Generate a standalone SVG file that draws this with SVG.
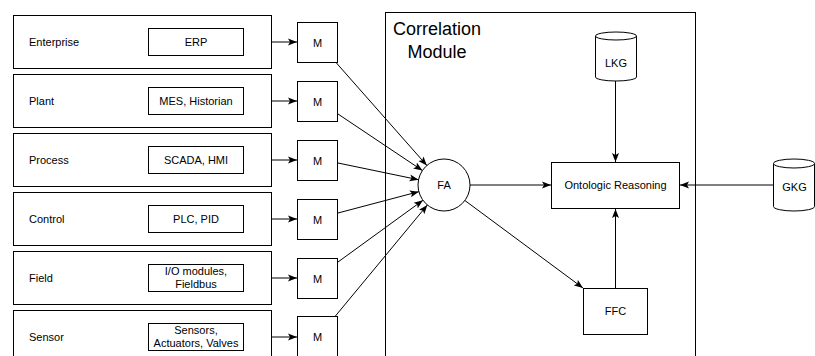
<svg xmlns="http://www.w3.org/2000/svg" width="815" height="356" viewBox="0 0 815 356">
<style>
.b{fill:#fff;stroke:#000;stroke-width:1}
.t{font-family:"Liberation Sans",Arial,sans-serif;font-size:11px;fill:#000}
.c{text-anchor:middle}
.big{font-family:"Liberation Sans",Arial,sans-serif;font-size:18px;fill:#000;text-anchor:middle}
.e{fill:none;stroke:#000;stroke-width:1;marker-end:url(#a)}
</style>
<defs>
<marker id="a" markerUnits="userSpaceOnUse" markerWidth="10" markerHeight="8" refX="9" refY="4" orient="auto">
<path d="M0,0.5 L9,4 L0,7.5 L2,4 Z" fill="#000"/>
</marker>
</defs>
<rect width="815" height="356" fill="#fff"/>
<g id="correlation-module">
<rect class="b" x="385.5" y="12.5" width="310" height="400"/>
<text class="big" x="437" y="35">Correlation</text>
<text class="big" x="437" y="58">Module</text>
</g>
<g id="layer-enterprise">
<rect class="b" x="13.5" y="15.5" width="258" height="53"/>
<text class="t" x="29" y="45.5">Enterprise</text>
<rect class="b" x="148.5" y="28.5" width="95" height="27"/>
<text class="t c" x="196" y="45.5">ERP</text>
</g>
<g id="layer-plant">
<rect class="b" x="13.5" y="74.5" width="258" height="53"/>
<text class="t" x="29" y="104.5">Plant</text>
<rect class="b" x="148.5" y="87.5" width="95" height="27"/>
<text class="t c" x="196" y="104.5">MES, Historian</text>
</g>
<g id="layer-process">
<rect class="b" x="13.5" y="133.5" width="258" height="53"/>
<text class="t" x="29" y="163.5">Process</text>
<rect class="b" x="148.5" y="146.5" width="95" height="27"/>
<text class="t c" x="196" y="163.5">SCADA, HMI</text>
</g>
<g id="layer-control">
<rect class="b" x="13.5" y="192.5" width="258" height="53"/>
<text class="t" x="29" y="222.5">Control</text>
<rect class="b" x="148.5" y="205.5" width="95" height="27"/>
<text class="t c" x="196" y="222.5">PLC, PID</text>
</g>
<g id="layer-field">
<rect class="b" x="13.5" y="251.5" width="258" height="53"/>
<text class="t" x="29" y="281.5">Field</text>
<rect class="b" x="148.5" y="264.5" width="95" height="27"/>
<text class="t c" x="196" y="275">I/O modules,</text>
<text class="t c" x="196" y="288">Fieldbus</text>
</g>
<g id="layer-sensor">
<rect class="b" x="13.5" y="310.5" width="258" height="53"/>
<text class="t" x="29" y="340.5">Sensor</text>
<rect class="b" x="148.5" y="323.5" width="95" height="27"/>
<text class="t c" x="196" y="334">Sensors,</text>
<text class="t c" x="196" y="347">Actuators, Valves</text>
</g>
<g id="m1"><rect class="b" x="297.5" y="22.5" width="40" height="40"/><text class="t c" x="317.5" y="46.5">M</text></g>
<g id="m2"><rect class="b" x="297.5" y="81.5" width="40" height="40"/><text class="t c" x="317.5" y="105.5">M</text></g>
<g id="m3"><rect class="b" x="297.5" y="140.5" width="40" height="40"/><text class="t c" x="317.5" y="164.5">M</text></g>
<g id="m4"><rect class="b" x="297.5" y="199.5" width="40" height="40"/><text class="t c" x="317.5" y="223.5">M</text></g>
<g id="m5"><rect class="b" x="297.5" y="258.5" width="40" height="40"/><text class="t c" x="317.5" y="282.5">M</text></g>
<g id="m6"><rect class="b" x="297.5" y="316.5" width="40" height="40"/><text class="t c" x="317.5" y="340.5">M</text></g>
<g id="fa"><circle class="b" cx="444" cy="185" r="26"/><text class="t c" x="444" y="189">FA</text></g>
<g id="ontologic-reasoning"><rect class="b" x="551.5" y="162.5" width="128" height="46"/><text class="t c" x="615.5" y="189">Ontologic Reasoning</text></g>
<g id="ffc"><rect class="b" x="583.5" y="288.5" width="64" height="46"/><text class="t c" x="615.5" y="315">FFC</text></g>
<g id="lkg">
<path class="b" d="M595.5,36 L595.5,77 A20.5,4 0 0 0 636.5,77 L636.5,36"/>
<ellipse class="b" cx="616" cy="36" rx="20.5" ry="4"/>
<text class="t c" x="616" y="66.5">LKG</text>
</g>
<g id="gkg">
<path class="b" d="M773.5,163.5 L773.5,206.5 A20.5,4.5 0 0 0 814.5,206.5 L814.5,163.5"/>
<ellipse class="b" cx="794" cy="163.5" rx="20.5" ry="4.5"/>
<text class="t c" x="794.5" y="190.5">GKG</text>
</g>
<g id="connectors">
<line class="e" x1="271.5" y1="42" x2="297" y2="42"/>
<line class="e" x1="271.5" y1="101" x2="297" y2="101"/>
<line class="e" x1="271.5" y1="160" x2="297" y2="160"/>
<line class="e" x1="271.5" y1="219" x2="297" y2="219"/>
<line class="e" x1="271.5" y1="278" x2="297" y2="278"/>
<line class="e" x1="271.5" y1="337" x2="297" y2="337"/>
<line class="e" x1="336" y1="62.5" x2="426.85" y2="165.46"/>
<line class="e" x1="338" y1="114" x2="422.4" y2="170.53"/>
<line class="e" x1="338" y1="163" x2="418.54" y2="179.72"/>
<line class="e" x1="338" y1="213" x2="418.86" y2="191.64"/>
<line class="e" x1="338" y1="262" x2="422.96" y2="200.28"/>
<line class="e" x1="335" y1="316.5" x2="427.37" y2="204.99"/>
<line class="e" x1="470" y1="185" x2="551" y2="185"/>
<line class="e" x1="464.9" y1="200.5" x2="583" y2="288"/>
<line class="e" x1="615.5" y1="81" x2="615.5" y2="162"/>
<line class="e" x1="773" y1="185" x2="680" y2="185"/>
<line class="e" x1="615.5" y1="288" x2="615.5" y2="209"/>
</g>
</svg>
